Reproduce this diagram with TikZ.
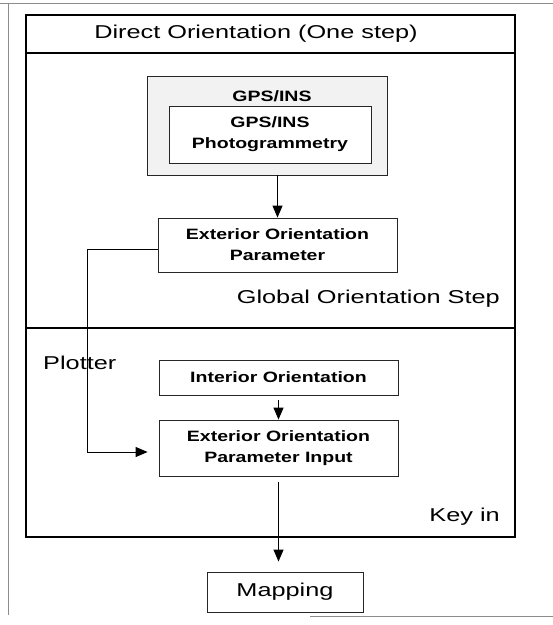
\documentclass[tikz,border=0pt]{standalone}
\usepackage{fontspec}
\setmainfont{Liberation Sans}
\newfontfamily\bigf{Liberation Sans}[FakeStretch=1.36]
\newfontfamily\boxf{Liberation Sans}[FakeStretch=1.3]
\usetikzlibrary{arrows.meta}
\begin{document}
\begin{tikzpicture}[x=1pt,y=-1pt,
  box/.style={draw=black!85, line width=0.8pt, fill=white, inner sep=0pt, align=center,
    font=\boxf\bfseries\fontsize{15}{21}\selectfont},
  lbl/.style={inner sep=0pt, font=\boxf\bfseries\fontsize{15}{21}\selectfont},
  big/.style={inner sep=0pt, font=\bigf\fontsize{18.6}{22}\selectfont},
  arr/.style={line width=1pt, -{Triangle[length=12pt,width=10pt]}},
  frm/.style={line width=1.2pt},
  scan/.style={line width=0.6pt, black!45}]
\useasboundingbox (0,0) rectangle (553,625);
% scan edges
\draw[scan] (0,3) -- (553,3);
\draw[scan] (8,3.5) -- (8,615);
\draw[scan] (310,616) -- (553,616);
% frame
\draw[frm] (26,15) rectangle (515,537);
\draw[frm] (26,53) -- (515,53);
\draw[frm] (26,328) -- (515,328);
\node[big] (title) at (256,34) {Direct Orientation (One step)};
\node[big, anchor=east] (global) at (500,299) {Global Orientation Step};
\node[big, anchor=west] (plotter) at (43,363) {Plotter};
\node[big, anchor=east] (keyin) at (500,517) {Key in};
% GPS/INS
\node[draw=black!85, line width=0.8pt, fill=gray!10, minimum width=240pt, minimum height=99pt] (gps) at (267,125.5) {};
\node[lbl] (gpslbl) at (272,96) {GPS/INS};
\node[box, minimum width=202pt, minimum height=57pt] (gpsin) at (270,134.5) {GPS/INS\\Photogrammetry};
% boxes
\node[box, minimum width=239pt, minimum height=54pt] (eop) at (277.5,245) {Exterior Orientation\\Parameter};
\node[box, minimum width=239pt, minimum height=35pt] (intr) at (278.5,377.5) {Interior Orientation};
\node[box, minimum width=239pt, minimum height=56pt] (eopi) at (278.5,448) {Exterior Orientation\\Parameter Input};
\node[box, minimum width=156pt, minimum height=40pt, font=\bigf\fontsize{18.6}{22}\selectfont] (map) at (285,592) {Mapping};
% connectors
\draw[arr] (gps.south -| eop.north) -- (eop.north);
\draw[arr] ([yshift=-5pt]intr.south) -- (eopi.north);
\draw[arr, shorten >=10pt] ([yshift=-6pt]eopi.south) -- (eopi.south |- map.north);
\draw[arr, shorten >=11pt] ([yshift=-4pt]eop.west) -- ++(-70,0) |- ([yshift=-4pt]eopi.west);
\end{tikzpicture}
\end{document}
